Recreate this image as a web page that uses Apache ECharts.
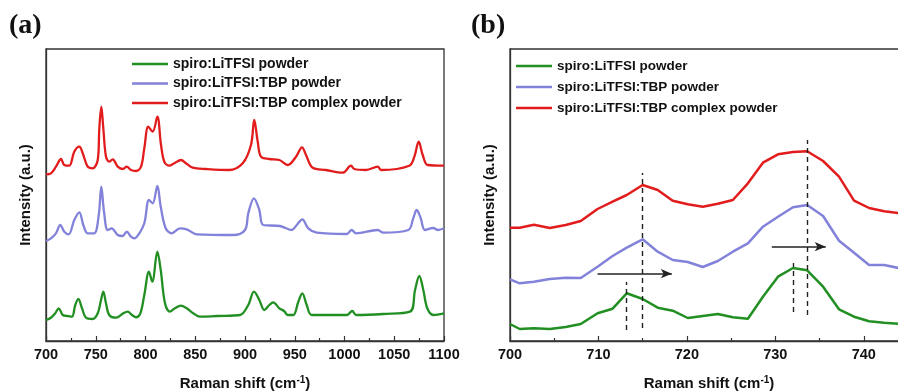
<!DOCTYPE html>
<html>
<head>
<meta charset="utf-8">
<script src="https://cdn.jsdelivr.net/npm/echarts@6/dist/echarts.min.js"></script>
<style>
  html, body { margin: 0; padding: 0; background: #fff; }
  #chart { width: 898px; height: 391px; }
</style>
</head>
<body>
<div id="chart"></div>
<script>
// Series names (shared by both panels)
const seriesNames = ['spiro:LiTFSI powder', 'spiro:LiTFSI:TBP powder', 'spiro:LiTFSI:TBP complex powder'];
const seriesColors = ['#218f21', '#8282da', '#e21c1c'];

// Panel (a): full Raman spectra 700-1100 cm-1 (intensity in a.u., traces offset vertically)
const shiftA_green = [700, 705, 709.3, 712.8, 716.8, 721.8, 726.1, 729.4, 732.5, 736.2, 740.2, 746.9, 752, 755.3, 757.6, 760.3, 763.6, 770.4, 777.7, 782.1, 786.4, 790.5, 794.8, 798.8, 803.5, 806.8, 811.9, 815.3, 819.6, 824.6, 829.6, 835.4, 841.4, 848, 854.8, 871.6, 895, 903.3, 909, 914.4, 919.4, 924.4, 928.4, 934.5, 939.2, 942.9, 948.5, 953.6, 957.6, 962, 967, 988.7, 1002.5, 1007.8, 1011.6, 1039, 1065.8, 1070.9, 1075.2, 1079.2, 1083.2, 1089.2, 1100];
const intensityA_green = [21, 23.3, 27.7, 32.7, 26, 25, 24.3, 36, 42, 32.7, 23.3, 22, 27.7, 41, 49.3, 37.7, 26, 23.3, 27.7, 29.3, 26, 23.7, 27.7, 46, 69.3, 59.3, 89.3, 71, 37.7, 29.3, 32.7, 35.3, 32.7, 27.7, 24.3, 25, 26, 36, 49.3, 41, 31, 36, 38.7, 32.7, 30, 26, 26, 39.3, 47.7, 36, 26, 26, 26, 30, 26, 27, 29.3, 51, 65, 51, 32.7, 26, 27.7];

const shiftA_blue = [700, 705, 710, 714.4, 718.4, 722.8, 728.4, 733.5, 737.5, 741.9, 748.5, 753, 755.6, 758.3, 762, 766, 772.1, 777.1, 781.1, 785.4, 788.7, 793.8, 798.8, 803.5, 807.2, 811.9, 815.3, 820.3, 826.3, 834.7, 841.4, 851.5, 888.2, 900, 903.3, 909, 914.4, 918.4, 935.2, 946.9, 952, 957.6, 963.6, 972.1, 1002.2, 1007.2, 1011.6, 1033.4, 1039, 1064.1, 1069.1, 1072.5, 1076.6, 1080.9, 1089, 1094, 1100];
const intensityA_blue = [100, 102.7, 107.7, 116, 109.3, 106.7, 121, 128.7, 116, 107.7, 107.7, 126, 154.3, 129.3, 111, 112.7, 106, 105, 109.3, 104.3, 102.7, 107.7, 117.7, 141, 137.7, 155, 134.3, 112.7, 107.7, 112.7, 111.7, 106.7, 106, 111, 127.7, 142.7, 131, 116, 115, 111, 116, 121.7, 112.7, 108.3, 107, 111, 107.7, 111, 108.3, 111, 122.7, 131, 122.7, 111, 113, 111, 112.7];

const shiftA_red = [700, 705, 710, 715.1, 718.4, 723.4, 728.4, 733.5, 736.9, 741.9, 746.9, 752, 753.6, 755.6, 757.6, 760.3, 763.6, 767, 772.1, 777.1, 781.1, 785.4, 790.5, 795.5, 798.8, 802.8, 807.2, 811.9, 815.6, 818.9, 823.9, 828.9, 835.7, 840.7, 847.4, 860.8, 883.9, 897.7, 906, 909.3, 912.8, 916.1, 924.4, 934.5, 942.9, 951.3, 957.3, 961.3, 968, 981.4, 998.2, 1006.5, 1009.8, 1021.6, 1033.4, 1036.7, 1065.1, 1070.2, 1074.6, 1078.6, 1083.6, 1100];
const intensityA_red = [166.7, 167.7, 174.3, 182, 176, 175.3, 189.3, 194.3, 187.7, 174.3, 172.7, 181, 212.7, 234.3, 212.7, 184.3, 179.3, 181.7, 174.3, 172, 174.3, 171, 170, 174.3, 192.7, 214.3, 209.3, 224.3, 196, 179.3, 175.3, 177.7, 181, 177.7, 173.3, 172, 171, 177.7, 196, 221, 199.3, 184.3, 182, 181, 176, 184.3, 193.7, 186, 173.3, 171, 168.3, 175.3, 172, 171, 174.3, 171, 175.3, 184.3, 199.3, 186, 176, 175.3];

// Panel (b): zoom on 700-745 cm-1
const shiftB = [700, 701.1, 702.7, 704.5, 706.3, 708.0, 709.9, 711.6, 713.2, 715.0, 716.7, 718.4, 720.1, 721.8, 723.5, 725.2, 726.9, 728.6, 730.3, 732.0, 733.6, 735.4, 737.2, 738.9, 740.6, 742.3, 744.1];
const intensityB_green = [17, 12, 12.7, 12, 14, 17, 27.7, 32.3, 47.7, 42, 33.3, 30.3, 23, 25, 27, 23.7, 22.3, 44.3, 64.3, 73, 70.7, 54.3, 31.7, 24.3, 19.7, 18.3, 17];
const intensityB_blue = [61.7, 57.7, 59.3, 62, 63.3, 63, 74.3, 85, 93.3, 101.7, 89.3, 81, 79, 74, 80, 89.3, 97.7, 114.3, 124.3, 133.7, 136, 125, 100.3, 88.3, 76, 76, 72.7];
const intensityB_red = [113.3, 113.3, 116.3, 113, 116, 120, 132, 139.3, 146, 156, 151, 140.3, 136.7, 134.3, 137.3, 141, 157.7, 178.3, 186.7, 189, 189.7, 180, 164.3, 140.3, 133, 129.7, 127.7];

// Peak position guides in panel (b): [shift, lower intensity, upper intensity]
const peakGuides = [[715.0, 13, 168], [713.2, 11, 59], [733.6, 26, 201], [732.0, 29, 78]];
// Shift arrows in panel (b): [start shift, end shift, intensity level]
const shiftArrows = [[709.9, 718.3, 67.3], [729.6, 735.7, 94.3]];

const zip = (xs, ys) => xs.map((x, i) => [x, ys[i]]);

const fontSans = 'Liberation Sans, Arial, sans-serif';
const axisColor = '#333';

function makeXAxis(gridIndex, min, max, interval) {
  return {
    type: 'value', gridIndex, min, max, interval,
    name: '{t|Raman shift (cm}{s|-1}{t|)}',
    nameLocation: 'middle', nameGap: 34,
    nameTextStyle: {
      rich: {
        t: { fontFamily: fontSans, fontWeight: 'bold', fontSize: 15, color: '#111' },
        s: { fontFamily: fontSans, fontWeight: 'bold', fontSize: 10, color: '#111', verticalAlign: 'top', padding: [0, 0, 8, 0] }
      }
    },
    axisLine: { show: true, onZero: false, lineStyle: { color: axisColor, width: 1.3 } },
    axisTick: { show: true, inside: true, length: 5, lineStyle: { color: axisColor, width: 1.2 } },
    minorTick: { show: true, splitNumber: 2, length: 3, lineStyle: { color: axisColor, width: 1.2 } },
    axisLabel: {
      margin: 6, fontFamily: fontSans, fontWeight: 'bold', fontSize: 14.5, color: '#111',
      showMaxLabel: gridIndex === 0, formatter: v => String(v)
    },
    splitLine: { show: false }
  };
}

function makeYAxis(gridIndex) {
  return {
    type: 'value', gridIndex, min: 0, max: 292,
    name: 'Intensity (a.u.)', nameLocation: 'middle', nameGap: 13,
    nameTextStyle: { fontFamily: fontSans, fontWeight: 'bold', fontSize: 15, color: '#111' },
    axisLine: { show: true, lineStyle: { color: axisColor, width: 1.3 } },
    axisTick: { show: false }, axisLabel: { show: false }, splitLine: { show: false }
  };
}

const seriesA = [
  zip(shiftA_green, intensityA_green),
  zip(shiftA_blue, intensityA_blue),
  zip(shiftA_red, intensityA_red)
].map((data, i) => ({
  name: seriesNames[i], type: 'line', xAxisIndex: 0, yAxisIndex: 0,
  data, smooth: 0.35, showSymbol: false, symbol: 'none',
  lineStyle: { color: seriesColors[i], width: 2.3 }, itemStyle: { color: seriesColors[i] }
}));

const seriesB = [intensityB_green, intensityB_blue, intensityB_red].map((ys, i) => ({
  name: seriesNames[i], type: 'line', xAxisIndex: 1, yAxisIndex: 1,
  data: zip(shiftB, ys), showSymbol: false, symbol: 'none',
  lineStyle: { color: seriesColors[i], width: 2.5 }, itemStyle: { color: seriesColors[i] }
}));

// Guides and arrows drawn as mark lines in panel (b)
const guideLines = peakGuides.map(([x, y0, y1]) => [
  { coord: [x, y0], symbol: 'none', lineStyle: { type: [5, 4], color: '#222', width: 1.4 } },
  { coord: [x, y1], symbol: 'none' }
]);
const arrowLines = shiftArrows.map(([x0, x1, y]) => [
  { coord: [x0, y], symbol: 'none', lineStyle: { type: 'solid', color: '#222', width: 1.5 } },
  { coord: [x1, y], symbol: 'arrow', symbolSize: [7, 11] }
]);
seriesB.push({
  type: 'line', xAxisIndex: 1, yAxisIndex: 1, data: [], silent: true,
  markLine: {
    silent: true, animation: false, symbol: ['none', 'none'],
    label: { show: false }, emphasis: { disabled: true },
    lineStyle: { color: '#222', width: 1.4 },
    data: guideLines.concat(arrowLines)
  }
});

const legendBase = {
  orient: 'vertical', icon: 'rect', itemWidth: 36, itemHeight: 2.5, padding: 0,
  selectedMode: false, data: seriesNames
};

const option = {
  animation: false,
  backgroundColor: '#fff',
  title: [
    { text: '(a)', left: 9, top: 12, padding: 0, textStyle: { fontFamily: 'Liberation Serif, Times New Roman, serif', fontWeight: 'bold', fontSize: 28, color: '#111' } },
    { text: '(b)', left: 471, top: 12, padding: 0, textStyle: { fontFamily: 'Liberation Serif, Times New Roman, serif', fontWeight: 'bold', fontSize: 28, color: '#111' } }
  ],
  legend: [
    Object.assign({}, legendBase, { left: 132, top: 57, itemGap: 5.5, textStyle: { fontFamily: fontSans, fontWeight: 'bold', fontSize: 14, color: '#111' } }),
    Object.assign({}, legendBase, { left: 516, top: 59, itemGap: 7, textStyle: { fontFamily: fontSans, fontWeight: 'bold', fontSize: 13.5, color: '#111' } })
  ],
  grid: [
    { left: 46, top: 49, width: 398, height: 292, show: true, borderColor: axisColor, borderWidth: 1.3, containLabel: false, outerBoundsMode: 'none' },
    { left: 510, top: 49, width: 398, height: 292, show: true, borderColor: axisColor, borderWidth: 1.3, containLabel: false, outerBoundsMode: 'none' }
  ],
  xAxis: [makeXAxis(0, 700, 1100, 50), makeXAxis(1, 700, 745, 10)],
  yAxis: [makeYAxis(0), makeYAxis(1)],
  series: seriesA.concat(seriesB)
};

const chart = echarts.init(document.getElementById('chart'), null, { renderer: 'canvas' });
chart.setOption(option);
</script>
</body>
</html>
